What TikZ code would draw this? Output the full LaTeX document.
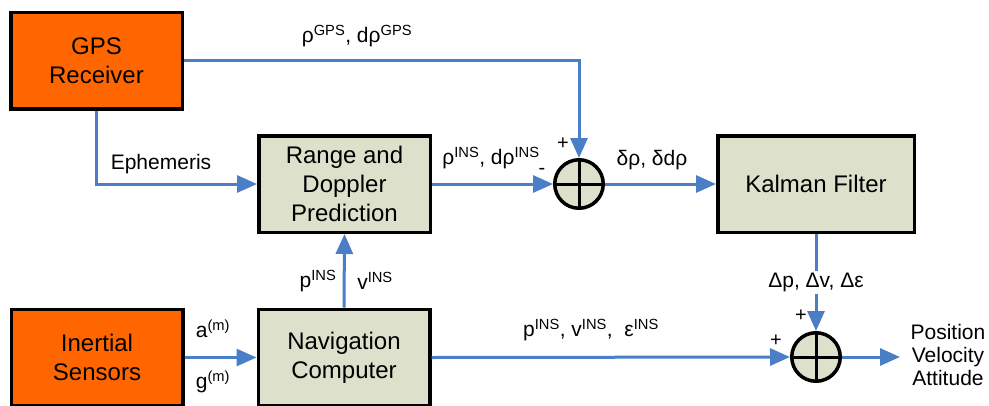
\documentclass[tikz,border=0pt]{standalone}
\usepackage{fontspec}
\setmainfont{Liberation Sans}
\usetikzlibrary{arrows.meta}

\definecolor{sensorcol}{HTML}{FF6600}
\definecolor{procol}{HTML}{DDE1CB}
\definecolor{linkcol}{HTML}{4A7EC6}

\begin{document}
\begin{tikzpicture}
 [x=1pt, y=-1pt,
  sensor node/.style={rectangle, draw=black, line width=3.5pt, fill=sensorcol, minimum width=171.5pt, minimum height=96.5pt, align=center, font=\fontsize{24}{29}\selectfont},
  proc node/.style={rectangle, draw=black, line width=3.5pt, fill=procol, minimum width=171.5pt, minimum height=96.5pt, align=center, font=\fontsize{24}{29}\selectfont},
  sum node/.style={circle, draw=black, line width=3.5pt, fill=procol, minimum size=48.5pt, inner sep=0pt},
  link/.style={draw=linkcol, line width=3pt, -{Triangle[length=20pt,width=17pt]}},
  lbl/.style={inner sep=1pt, font=\fontsize{21}{23}\selectfont, align=center},
  sign/.style={inner sep=0pt, font=\fontsize{20}{20}\selectfont}]

 \useasboundingbox (0,0) rectangle (989,405);

 \node[sensor node] (gps) at (96.5,60.5) {GPS\\Receiver};
 \node[sensor node] (ins) at (97,357.5) {Inertial\\Sensors};
 \node[proc node] (rdp) at (344.5,184) {Range and\\Doppler\\Prediction};
 \node[proc node] (nav) at (344,357.5) {Navigation\\Computer};
 \node[proc node, minimum width=196.5pt] (kf) at (816,184) {Kalman Filter};
 \node[sum node] (s1) at (579,184) {};
 \node[sum node] (s2) at (816,357) {};
 \coordinate (out) at (900,357);

 % crosses in the summing junctions
 \draw[line width=3pt] (s1.north) -- (s1.south) (s1.west) -- (s1.east);
 \draw[line width=3pt] (s2.north) -- (s2.south) (s2.west) -- (s2.east);

 \draw[link] (gps.east) -| (s1.north);
 \draw[link] (gps.south) |- (rdp.west);
 \draw[link] (nav.north) -- (rdp.south);

 \path
  (rdp.east) edge [link] (s1.west)
  (s1.east) edge [link] (kf.west)
  (ins.east) edge [link] (nav.west)
  (nav.east) edge [link] (s2.west)
  (kf.south) edge [link] node [lbl, fill=white, inner sep=2pt] {Δp, Δv, Δε} (s2.north)
  (s2.east) edge [link] (out);

 % labels
 \node[lbl] (lgps) at (357,36) {ρ\textsuperscript{GPS}, dρ\textsuperscript{GPS}};
 \node[lbl] (leph) at (161,164) {Ephemeris};
 \node[lbl] (lrins) at (491,158) {ρ\textsuperscript{INS}, dρ\textsuperscript{INS}};
 \node[lbl] (ldel) at (652,160) {δρ, δdρ};
 \node[lbl] (lp) at (318,281) {p\textsuperscript{INS}};
 \node[lbl] (lv) at (375,281) {v\textsuperscript{INS}};
 \node[lbl] (la) at (213,329) {a\textsuperscript{(m)}};
 \node[lbl] (lg) at (213,382) {g\textsuperscript{(m)}};
 \node[lbl] (lpve) at (591,330) {p\textsuperscript{INS}, v\textsuperscript{INS}, \ ε\textsuperscript{INS}};
 \node[lbl] (lout) at (948,355) {Position\\Velocity\\Attitude};

 \node[sign] (m1) at (542,171) {-};
 \node[sign] (p1) at (563,144) {+};
 \node[sign] (p2) at (801,316) {+};
 \node[sign] (p3) at (776,341) {+};

\end{tikzpicture}
\end{document}
